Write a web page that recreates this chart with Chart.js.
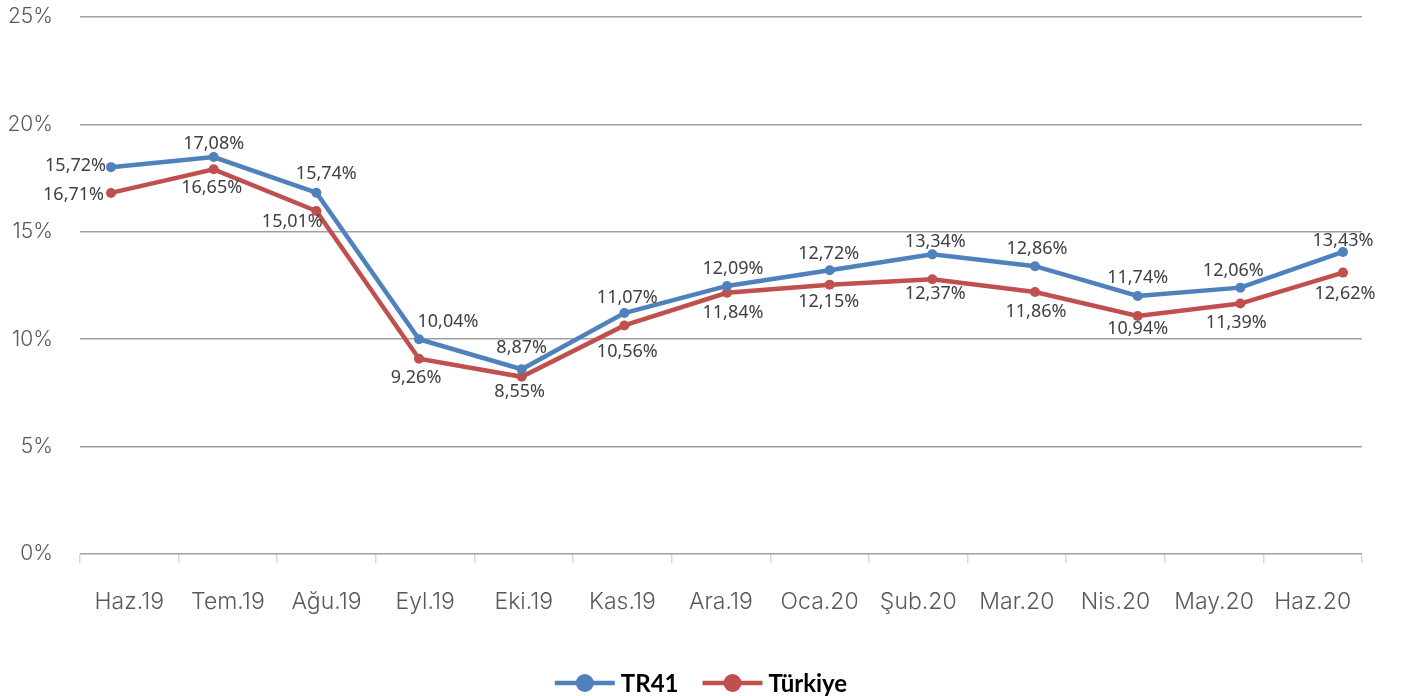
<!DOCTYPE html>
<html lang="tr">
<head>
<meta charset="utf-8">
<title>TR41 - Türkiye</title>
<script src="https://cdn.jsdelivr.net/npm/chart.js@4.4.1/dist/chart.umd.min.js"></script>
<style>
  html, body { margin: 0; padding: 0; background: #fff; }
  #wrap { position: relative; width: 1402px; height: 696px; }
</style>
</head>
<body>
<div id="wrap"><canvas id="chart"></canvas></div>
<script>
// ── DONNÉES ──
const months  = ["Haz.19", "Tem.19", "Ağu.19", "Eyl.19", "Eki.19", "Kas.19", "Ara.19",
                 "Oca.20", "Şub.20", "Mar.20", "Nis.20", "May.20", "Haz.20"];
const tr41    = [18.01, 18.48, 16.82, 10.00, 8.60, 11.22, 12.48, 13.21, 13.95, 13.40, 12.01, 12.40, 14.06];
const turkiye = [16.81, 17.91, 15.97, 9.09, 8.25, 10.64, 12.16, 12.54, 12.79, 12.20, 11.08, 11.66, 13.10];
const tr41Text    = ["15,72%", "17,08%", "15,74%", "10,04%", "8,87%", "11,07%", "12,09%",
                     "12,72%", "13,34%", "12,86%", "11,74%", "12,06%", "13,43%"];
const turkiyeText = ["16,71%", "16,65%", "15,01%", "9,26%", "8,55%", "10,56%", "11,84%",
                     "12,15%", "12,37%", "11,86%", "10,94%", "11,39%", "12,62%"];
const yTicks = [0, 5, 10, 15, 20, 25];

// ── PLACEMENT DES ÉTIQUETTES (dx, dy, align) ──
const tr41Pos = [[-5, -1, "right"], [0, -13], [10, -19], [29, -17], [0, -21], [3, -15], [6, -17],
                 [-1, -16], [3, -12], [2, -17], [0, -18], [-7, -17], [0, -11]];
const turkiyePos = [[-7, 2, "right"], [-2, 19], [-24, 11], [-3, 19], [-2, 15], [3, 26], [6, 20],
                    [-1, 17], [3, 15], [1, 20], [0, 13], [-4, 19], [2, 21]];

const BLUE = "#4f81bd";
const RED  = "#c0504d";
const Y_FONT = { family: "Inter, Lato, sans-serif", size: 21, weight: 300 };
const X_FONT = { family: "Inter, Lato, sans-serif", size: 23, weight: 300 };

// ── PLUGINS ──
const pointLabels = {
    id: "pointLabels",
    afterDatasetsDraw(chart) {
        const ctx = chart.ctx;
        ctx.save();
        ctx.font = "18px 'Noto Sans'";
        ctx.fillStyle = "#404040";
        ctx.textBaseline = "middle";
        chart.data.datasets.forEach((ds, i) => {
            chart.getDatasetMeta(i).data.forEach((pt, j) => {
                const [dx, dy, align] = ds.labelPos[j];
                ctx.textAlign = align || "center";
                ctx.fillText(ds.texts[j], pt.x + dx, pt.y + dy);
            });
        });
        ctx.restore();
    }
};

const lineLegend = {
    id: "lineLegend",
    afterDraw(chart) {
        const ctx = chart.ctx;
        const y = 683, sample = 60, gap = 6, spacing = 24;
        ctx.save();
        ctx.font = "bold 24px Lato";
        ctx.textBaseline = "middle";
        ctx.textAlign = "left";
        const items = chart.data.datasets.map(ds => ({
            ds, w: sample + gap + ctx.measureText(ds.label).width
        }));
        const total = items.reduce((s, it) => s + it.w, 0) + spacing * (items.length - 1);
        let x = chart.width / 2 - total / 2;
        items.forEach(it => {
            ctx.strokeStyle = it.ds.borderColor;
            ctx.lineWidth = 4.5;
            ctx.beginPath();
            ctx.moveTo(x, y);
            ctx.lineTo(x + sample, y);
            ctx.stroke();
            ctx.fillStyle = it.ds.borderColor;
            ctx.beginPath();
            ctx.arc(x + sample / 2, y, 9, 0, Math.PI * 2);
            ctx.fill();
            ctx.fillStyle = "#000";
            ctx.fillText(it.ds.label, x + sample + gap, y + 1);
            x += it.w + spacing;
        });
        ctx.restore();
    }
};

// ── GRAPHIQUE ──
function series(label, values, texts, pos, color) {
    return {
        label,
        data: values.map((v, i) => ({ x: i, y: v })),
        texts,
        labelPos: pos,
        xAxisID: "x2",
        yAxisID: "y",
        borderColor: color,
        backgroundColor: color,
        borderWidth: 4.5,
        pointRadius: 5,
        pointHoverRadius: 5,
        pointBorderWidth: 0,
        pointBackgroundColor: color,
        tension: 0
    };
}

new Chart(document.getElementById("chart"), {
    type: "line",
    data: {
        labels: months,
        datasets: [
            series("TR41", tr41, tr41Text, tr41Pos, BLUE),
            series("Türkiye", turkiye, turkiyeText, turkiyePos, RED)
        ]
    },
    options: {
        responsive: true,
        maintainAspectRatio: false,
        animation: false,
        layout: { padding: { top: 17, right: 40, left: 0, bottom: 0 } },
        plugins: {
            legend: { display: false },
            tooltip: { enabled: false }
        },
        scales: {
            x: {
                type: "category",
                offset: true,
                grid: { offset: true, drawOnChartArea: false, tickLength: 9, color: "#d9d9d9", lineWidth: 1.5 },
                border: { display: false },
                ticks: { color: "#595959", font: X_FONT, padding: 25, maxRotation: 0, autoSkip: false },
                afterFit: s => { s.height = 142; s.paddingLeft = 0; s.paddingRight = 0; }
            },
            x2: { type: "linear", display: false, min: -0.302, max: 12.185 },
            y: {
                min: 0, max: 25,
                afterFit: s => { s.width = 80; s.paddingTop = 0; s.paddingBottom = 0; },
                afterBuildTicks: s => { s.ticks = yTicks.map(v => ({ value: v })); },
                grid: { color: "#a0a0a0", lineWidth: 1.5, drawTicks: false },
                border: { display: false },
                ticks: { color: "#595959", font: Y_FONT, padding: 27, callback: v => v + "%" }
            }
        }
    },
    plugins: [pointLabels, lineLegend]
});
</script>
</body>
</html>
